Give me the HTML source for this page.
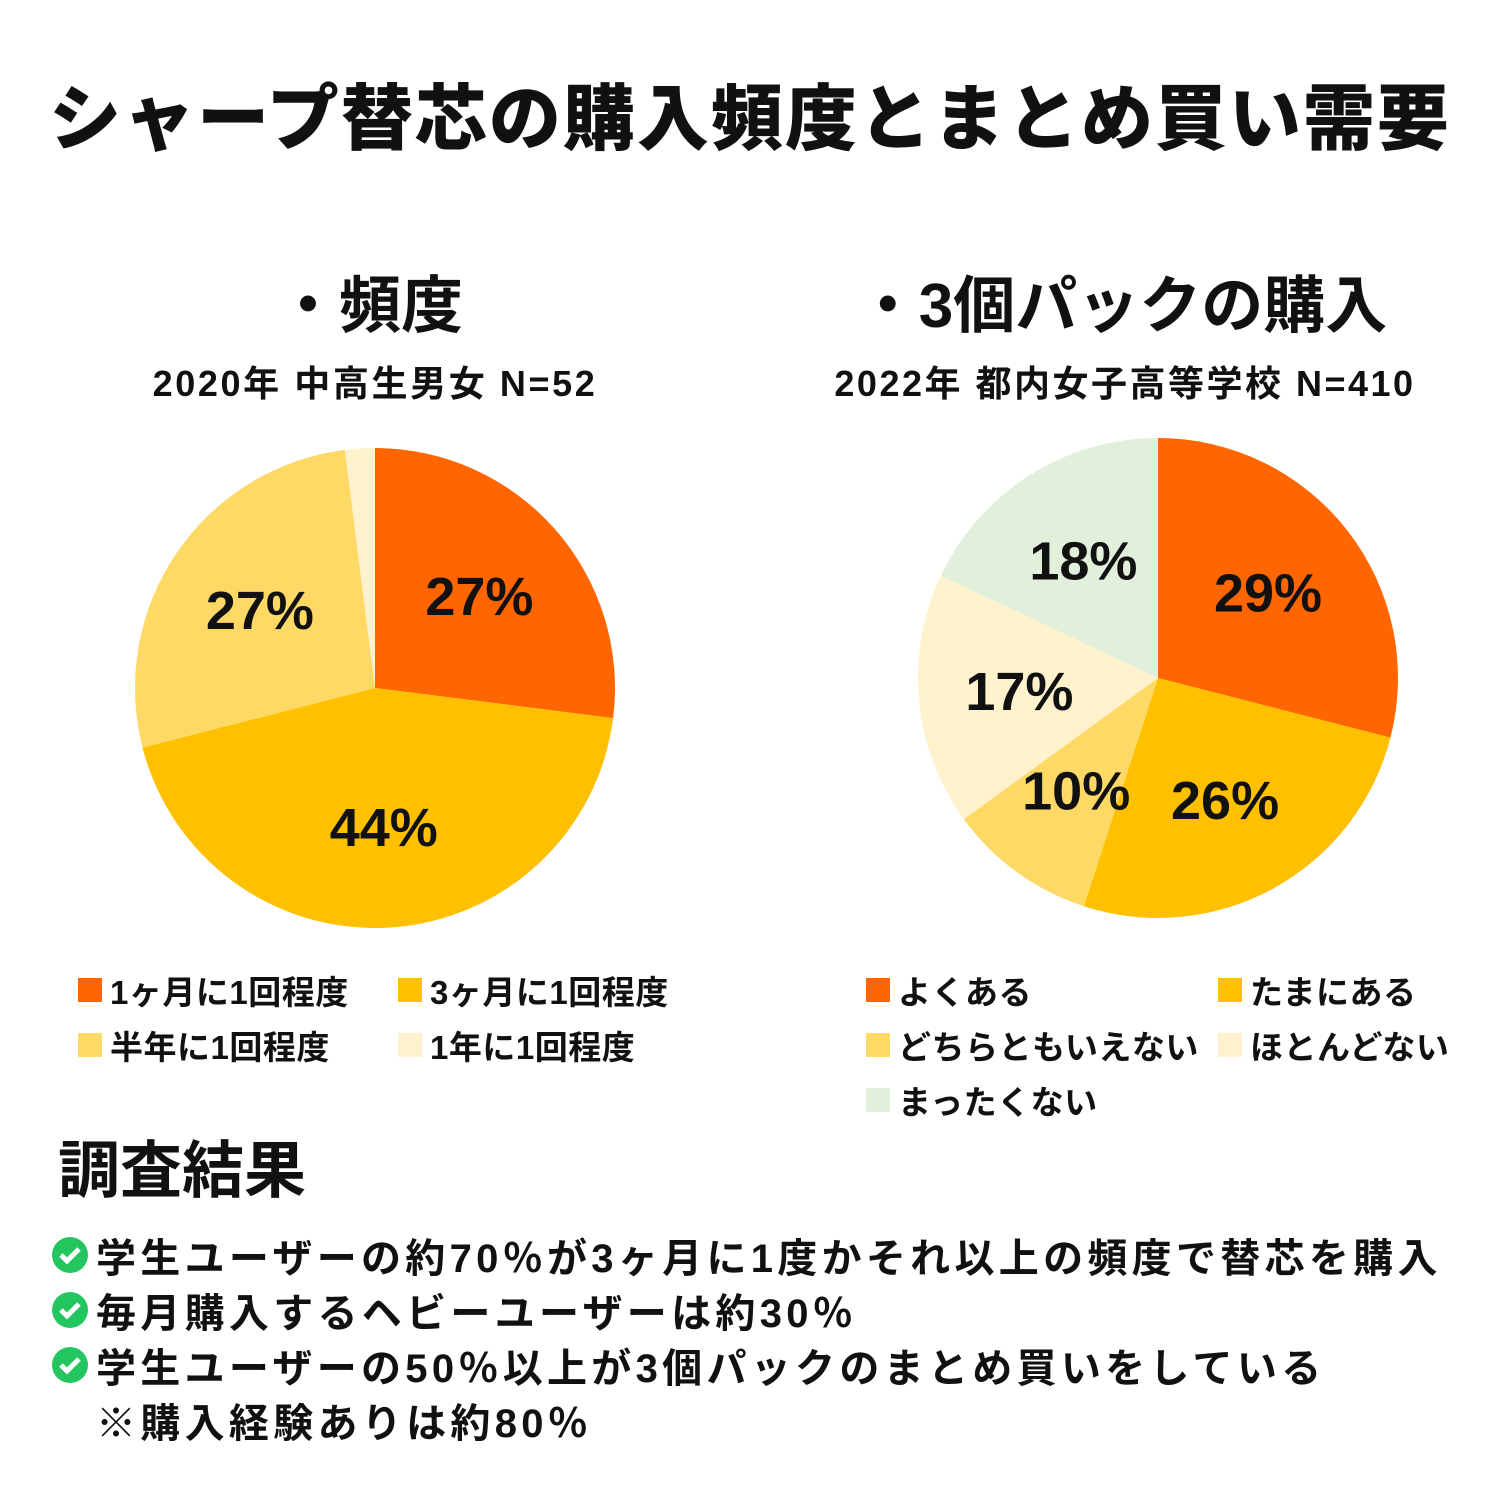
<!DOCTYPE html>
<html><head><meta charset="utf-8">
<style>
body{margin:0;width:1500px;height:1500px;background:#fff;position:relative;overflow:hidden;font-family:"Liberation Sans","Noto Sans CJK JP",sans-serif;font-weight:bold;color:#111}
.abs{position:absolute;white-space:nowrap}
.leg{position:absolute;font-size:33px;display:flex;align-items:center;white-space:nowrap;letter-spacing:0.5px}
.sq{width:24px;height:24px;margin-right:8px;display:inline-block}
.bul{position:absolute;left:52px;font-size:40px;display:flex;align-items:center;white-space:nowrap;letter-spacing:4.3px}
.chk{width:36px;height:36px;margin-right:8px}
</style></head><body>
<div class="abs" style="left:0;width:1500px;text-align:center;top:60px;font-size:72px;font-weight:900;letter-spacing:2px">シャープ替芯の購入頻度とまとめ買い需要</div>
<div class="abs" style="left:270px;width:200px;text-align:center;top:255px;font-size:62px">・頻度</div>
<div class="abs" style="left:75px;width:600px;text-align:center;top:355px;font-size:36px;letter-spacing:2.6px">2020年 中高生男女 N=52</div>
<div class="abs" style="left:772px;width:700px;text-align:center;top:255px;font-size:62px">・3個パックの購入</div>
<div class="abs" style="left:745px;width:760px;text-align:center;top:355px;font-size:36px;letter-spacing:2.5px">2022年 都内女子高等学校 N=410</div>
<svg id="pies" width="1500" height="1500" style="position:absolute;left:0;top:0"></svg>

<div class="leg" style="left:78px;top:966px"><span class="sq" style="background:#FF6600"></span>1ヶ月に1回程度</div>
<div class="leg" style="left:398px;top:966px"><span class="sq" style="background:#FFC000"></span>3ヶ月に1回程度</div>
<div class="leg" style="left:78px;top:1021px"><span class="sq" style="background:#FFD966"></span>半年に1回程度</div>
<div class="leg" style="left:398px;top:1021px"><span class="sq" style="background:#FFF2CC"></span>1年に1回程度</div>

<div class="leg" style="left:866px;top:966px"><span class="sq" style="background:#FF6600"></span>よくある</div>
<div class="leg" style="left:1218px;top:966px"><span class="sq" style="background:#FFC000"></span>たまにある</div>
<div class="leg" style="left:866px;top:1021px"><span class="sq" style="background:#FFD966"></span>どちらともいえない</div>
<div class="leg" style="left:1218px;top:1021px"><span class="sq" style="background:#FFF2CC"></span>ほとんどない</div>
<div class="leg" style="left:866px;top:1076px"><span class="sq" style="background:#E2EFDA"></span>まったくない</div>

<div class="abs" style="left:58px;top:1120px;font-size:62px">調査結果</div>
<div class="bul" style="top:1226px"><svg class="chk" viewBox="0 0 36 36"><circle cx="18" cy="18" r="18" fill="#22C55E"/><path d="M9 18l6 6 12-12" stroke="#fff" stroke-width="5" fill="none"/></svg>学生ユーザーの約70％が3ヶ月に1度かそれ以上の頻度で替芯を購入</div>
<div class="bul" style="top:1281px"><svg class="chk" viewBox="0 0 36 36"><circle cx="18" cy="18" r="18" fill="#22C55E"/><path d="M9 18l6 6 12-12" stroke="#fff" stroke-width="5" fill="none"/></svg>毎月購入するヘビーユーザーは約30％</div>
<div class="bul" style="top:1336px"><svg class="chk" viewBox="0 0 36 36"><circle cx="18" cy="18" r="18" fill="#22C55E"/><path d="M9 18l6 6 12-12" stroke="#fff" stroke-width="5" fill="none"/></svg>学生ユーザーの50％以上が3個パックのまとめ買いをしている</div>
<div class="bul" style="top:1391px;left:96px">※購入経験ありは約80％</div>

<script>
const leftCategories=["1ヶ月に1回程度","3ヶ月に1回程度","半年に1回程度","1年に1回程度"];
const leftValues=[27,44,27,2];
const leftLabels=["27%","44%","27%",""];
const rightCategories=["よくある","たまにある","どちらともいえない","ほとんどない","まったくない"];
const rightValues=[29,26,10,17,18];
const rightLabels=["29%","26%","10%","17%","18%"];
const leftColors=["#FF6600","#FFC000","#FFD966","#FFF2CC"];
const rightColors=["#FF6600","#FFC000","#FFD966","#FFF2CC","#E2EFDA"];
const svg=document.getElementById('pies');
const NS="http://www.w3.org/2000/svg";
function pie(cx,cy,r,vals,labels,colors,prefix){
  const tot=vals.reduce((a,b)=>a+b,0);
  let acc=0;
  vals.forEach((v,i)=>{
    const a0=acc/tot*2*Math.PI; acc+=v; const a1=acc/tot*2*Math.PI;
    const x0=cx+r*Math.sin(a0),y0=cy-r*Math.cos(a0),x1=cx+r*Math.sin(a1),y1=cy-r*Math.cos(a1);
    const p=document.createElementNS(NS,'path');
    p.setAttribute('d',`M${cx},${cy}L${x0},${y0}A${r},${r} 0 ${a1-a0>Math.PI?1:0} 1 ${x1},${y1}Z`);
    p.setAttribute('fill',colors[i]);
    
    
    svg.appendChild(p);
    if(labels[i]){
      const m=(a0+a1)/2;
      const t=document.createElementNS(NS,'text');
      t.setAttribute('x',cx+0.58*r*Math.sin(m));
      t.setAttribute('y',cy-0.58*r*Math.cos(m)+19);
      t.setAttribute('text-anchor','middle');
      t.setAttribute('font-size','54');
      t.setAttribute('font-weight','bold');
      t.setAttribute('fill','#111');
      t.textContent=labels[i];
      
      
      svg.appendChild(t);
    }
  });
}
pie(375,688,240,leftValues,leftLabels,leftColors,'frequency');
pie(1158,678,240,rightValues,rightLabels,rightColors,'pack-purchase');
</script>
</body></html>
